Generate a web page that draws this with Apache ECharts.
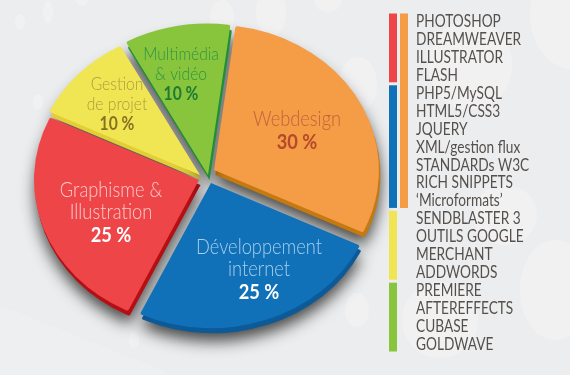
<!DOCTYPE html>
<html>
<head>
<meta charset="utf-8">
<style>
html,body{margin:0;padding:0;background:#ecedee;}
#chart{width:570px;height:375px;}
</style>
<script src="https://cdn.jsdelivr.net/npm/echarts@6/dist/echarts.min.js"></script>
</head>
<body>
<div id="chart"></div>
<script>
//camembert
var sliceNames = ['Webdesign', 'Développement\ninternet', 'Graphisme &\nIllustration', 'Gestion\nde projet', 'Multimédia\n& vidéo'];
var sliceValues = [30, 25, 25, 10, 10];
//liste des outils
var toolNames = ['PHOTOSHOP', 'DREAMWEAVER', 'ILLUSTRATOR', 'FLASH', 'PHP5/MySQL', 'HTML5/CSS3', 'JQUERY', 'XML/gestion flux', 'STANDARDs W3C', 'RICH SNIPPETS', '‘Microformats’', 'SENDBLASTER 3', 'OUTILS GOOGLE', 'MERCHANT', 'ADDWORDS', 'PREMIERE', 'AFTEREFFECTS', 'CUBASE', 'GOLDWAVE'];
//barres de la liste : colonne, premiere ligne, derniere ligne, part
var toolColumns = [0, 0, 0, 0, 1];
var toolFirstRows = [0, 4, 11, 15, 0];
var toolLastRows = [3, 10, 14, 18, 10];
var toolSlices = [2, 1, 3, 4, 0];

//styles des parts
var topColors = ['#f49c46', '#1070b8', '#ee4549', '#f0e654', '#88c53c'];
var sideColors = ['#c47a10', '#0d5a98', '#b50f14', '#e3cf35', '#1f8f35'];
var nameColors = ['#c4623a', '#a9cfec', '#fbc9c9', '#aa9d3c', '#2f9440'];
var pctColors = ['#b5492a', '#ffffff', '#ffffff', '#8a6f22', '#1c7a33'];
var tipX = [214, 211, 199, 200, 208];
var tipY = [170, 183, 180, 175, 175];
var radius = [165, 165, 165, 167, 172];
var textX = [297, 259, 111, 117, 181];
var textY = [131, 270, 213, 104, 74];
var tiltY = 0.88;
var firstAngle = 7.5;

var total = 0;
for (var i = 0; i < sliceValues.length; i++) {
	total += sliceValues[i];
}
/*
 * angles de debut et de fin d'une part, en radians
 */
function sliceAngles(index, api) {
	var before = 0;
	for (var k = 0; k < index; k++) {
		before += sliceValues[k];
	}
	var start = firstAngle + before / total * 360 - 90;
	var end = start + api.value(0) / total * 360;
	return [start * Math.PI / 180, end * Math.PI / 180];
}
/*
 * flanc et ombre
 */
function renderSide(params, api) {
	var i = params.dataIndex;
	var a = sliceAngles(i, api);
	return {
		type: 'group',
		x: tipX[i] + 1.5,
		y: tipY[i] + 5,
		scaleY: tiltY,
		children: [{
			type: 'sector',
			shape: {cx: 0, cy: 0, r0: 0, r: radius[i], cornerRadius: 2, startAngle: a[0], endAngle: a[1], clockwise: true},
			style: {
				fill: sideColors[i],
				shadowColor: 'rgba(30,30,30,0.8)',
				shadowBlur: 15,
				shadowOffsetY: 8
			}
		}]
	};
}
/*
 * dessus et texte
 */
function renderTop(params, api) {
	var i = params.dataIndex;
	var a = sliceAngles(i, api);
	var lines = sliceNames[i].split('\n');
	var text = '';
	for (var k = 0; k < lines.length; k++) {
		text += '{n|' + lines[k] + '}\n';
	}
	text += '{p|' + api.value(0) + ' %}';
	return {
		type: 'group',
		children: [{
			type: 'group',
			x: tipX[i],
			y: tipY[i],
			scaleY: tiltY,
			children: [{
				type: 'sector',
				shape: {cx: 0, cy: 0, r0: 0, r: radius[i], cornerRadius: 2, startAngle: a[0], endAngle: a[1], clockwise: true},
				style: {fill: topColors[i]}
			}]
		}, {
			type: 'text',
			x: textX[i],
			y: textY[i],
			scaleX: 0.87,
			style: {
				text: text,
				align: 'center',
				verticalAlign: 'middle',
				rich: {
					n: {fontFamily: 'Lato', fontWeight: 300, fontSize: i > 2 ? 18 : 21, lineHeight: i > 2 ? 20 : 22, fill: nameColors[i], align: 'center'},
					p: {fontFamily: 'Lato', fontWeight: 'bold', fontSize: i > 2 ? 18 : 21, lineHeight: i > 2 ? 20 : 24, fill: pctColors[i], align: 'center'}
				}
			}
		}]
	};
}
/*
 * barres de couleur a cote de la liste
 */
function renderToolBar(params, api) {
	var i = params.dataIndex;
	var left = api.coord([api.value(0), api.value(1)]);
	var right = api.coord([api.value(0) + 1, api.value(2)]);
	var band = api.size([0, 1])[1];
	return {
		type: 'rect',
		shape: {
			x: left[0],
			y: left[1] - band / 2 + 1.5,
			width: right[0] - left[0] - 3,
			height: right[1] - left[1] + band - 3
		},
		style: {fill: topColors[toolSlices[i]]}
	};
}
/*
 * noms des outils, resserres comme sur l'original
 */
function renderToolName(params, api) {
	var pos = api.coord([2, params.dataIndex]);
	return {
		type: 'text',
		x: pos[0] + 5,
		y: pos[1] + 0.5,
		scaleX: 0.805,
		style: {
			text: toolNames[params.dataIndex],
			fontFamily: 'Lato',
			fontSize: 17,
			fill: '#55504c',
			align: 'left',
			verticalAlign: 'middle'
		}
	};
}

//taches claires du fond
var spots = [
	[48, 12, 5, 11], [20, 22, 5, 8], [38, 102, 5, 8], [82, 0, 6, 6], [222, 18, 12, 18], [271, 12, 15, 24],
	[328, 0, 14, 12], [358, 85, 19, 28], [357, 310, 12, 17], [134, 340, 5, 8], [575, 15, 45, 55],
	[470, 65, 42, 45], [505, 215, 32, 30], [555, 290, 35, 50], [440, 320, 38, 38]
];
var spotGraphics = [{
	type: 'polygon',
	silent: true,
	z: -11,
	shape: {points: [[0, 305], [150, 365], [170, 375], [0, 375]]},
	style: {fill: 'rgba(255,255,255,0.12)'}
}];
for (var s = 0; s < spots.length; s++) {
	spotGraphics.push({
		type: 'ellipse',
		silent: true,
		z: -10,
		shape: {cx: spots[s][0], cy: spots[s][1], rx: spots[s][2], ry: spots[s][3]},
		style: {fill: 'rgba(255,255,255,0.26)'}
	});
}

var toolBarData = [];
for (var b = 0; b < toolColumns.length; b++) {
	toolBarData.push([toolColumns[b], toolFirstRows[b], toolLastRows[b]]);
}

var chart = echarts.init(document.getElementById('chart'));
chart.setOption({
	animation: false,
	backgroundColor: '#ecedee',
	graphic: spotGraphics,
	grid: {left: 389, top: 12, width: 22, height: 341},
	xAxis: {type: 'value', min: 0, max: 2, show: false},
	yAxis: {
		type: 'category',
		inverse: true,
		data: toolNames,
		axisLine: {show: false},
		axisTick: {show: false},
		axisLabel: {show: false}
	},
	series: [{
		type: 'custom',
		coordinateSystem: 'none',
		renderItem: renderSide,
		data: sliceValues,
		z: 2
	}, {
		type: 'custom',
		coordinateSystem: 'none',
		renderItem: renderTop,
		data: sliceValues,
		z: 3
	}, {
		type: 'custom',
		renderItem: renderToolBar,
		encode: {x: 0, y: [1, 2]},
		data: toolBarData,
		z: 3
	}, {
		type: 'custom',
		renderItem: renderToolName,
		data: toolNames,
		z: 3
	}]
});
</script>
</body>
</html>
